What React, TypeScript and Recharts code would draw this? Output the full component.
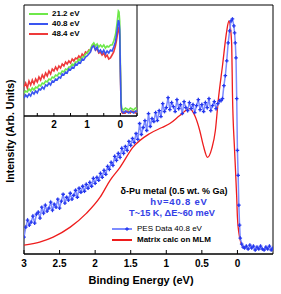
import React from 'react';
import { LineChart, Line, XAxis, YAxis, ReferenceArea } from 'recharts';

const FONT = '"Liberation Sans", Arial, sans-serif';

// Main panel: PES data at 40.8 eV (binding energy, intensity)
const pesEnergy = [
  3.0, 2.975, 2.95, 2.925, 2.9, 2.875, 2.85, 2.825, 2.8, 2.775,
  2.75, 2.725, 2.7, 2.675, 2.65, 2.625, 2.6, 2.575, 2.55, 2.525,
  2.5, 2.475, 2.45, 2.425, 2.4, 2.375, 2.35, 2.325, 2.3, 2.275,
  2.25, 2.225, 2.2, 2.175, 2.15, 2.125, 2.1, 2.075, 2.05, 2.025,
  2.0, 1.975, 1.95, 1.925, 1.9, 1.875, 1.85, 1.825, 1.8, 1.775,
  1.75, 1.725, 1.7, 1.675, 1.65, 1.625, 1.6, 1.575, 1.55, 1.525,
  1.5, 1.475, 1.45, 1.425, 1.4, 1.375, 1.35, 1.325, 1.3, 1.275,
  1.25, 1.225, 1.2, 1.175, 1.15, 1.125, 1.1, 1.075, 1.05, 1.025,
  1.0, 0.975, 0.95, 0.925, 0.9, 0.875, 0.85, 0.825, 0.8, 0.775,
  0.75, 0.725, 0.7, 0.675, 0.65, 0.625, 0.6, 0.575, 0.55, 0.525,
  0.5, 0.475, 0.45, 0.425, 0.4, 0.375, 0.35, 0.325, 0.3, 0.275,
  0.25, 0.23, 0.21, 0.19, 0.17, 0.15, 0.13, 0.11, 0.09, 0.07,
  0.05, 0.04, 0.03, 0.02, 0.01, 0, -0.01, -0.02, -0.03, -0.04,
  -0.06, -0.08, -0.1, -0.125, -0.15, -0.175, -0.2, -0.225, -0.25, -0.275,
  -0.3, -0.325, -0.35, -0.375, -0.4, -0.425, -0.45, -0.475, -0.5,
];
const pesIntensity = [
  17, 27, 34, 29, 32, 38, 31, 40, 42, 36,
  47, 41, 49, 43, 46, 52, 44, 50, 47, 55,
  46, 53, 60, 51, 57, 54, 61, 55, 59, 64,
  57, 66, 62, 68, 63, 70, 66, 72, 68, 76,
  71, 77, 74, 81, 77, 84, 80, 88, 85, 92,
  89, 98, 94, 101, 97, 106, 101, 108, 104, 113,
  109, 116, 112, 121, 115, 131, 120, 127, 134, 124,
  141, 128, 136, 133, 142, 134, 144, 138, 151, 143,
  147, 157, 145, 152, 148, 143, 155, 146, 150, 141,
  153, 147, 144, 152, 146, 150, 142, 149, 155, 145,
  150, 143, 152, 147, 156, 144, 149, 153, 146, 151,
  154, 154, 156, 169, 179, 194, 212, 224, 234, 236,
  229, 222, 212, 197, 156, 104, 79, 49, 29, 16,
  10, 7, 6, 8, 5, 9, 6, 8, 4, 7,
  5, 8, 5, 4, 7, 5, 8, 4, 6,
];

// Main panel: matrix calculation on MLM
const calcEnergy = [
  3.0, 2.78, 2.59, 2.35, 2.12, 1.93, 1.79, 1.65, 1.47, 1.23,
  1.06, 0.95, 0.81, 0.67, 0.6, 0.53, 0.48, 0.42, 0.36, 0.31,
  0.27, 0.21, 0.15, 0.12, 0.1, 0.08, 0.07, 0.04, 0.01, 0.0,
  -0.03, -0.07,
];
const calcIntensity = [
  9, 12, 17, 27, 41, 57, 74, 87, 107, 121,
  127, 131, 139, 146, 139, 124, 109, 97, 106, 124,
  154, 189, 224, 234, 228, 209, 162, 104, 57, 37,
  17, 8,
];

const mainTicks = [3, 2.5, 2, 1.5, 1, 0.5, 0];

// Inset: three photon energies
const insetEnergy = [
  2.9, 2.85, 2.8, 2.75, 2.7, 2.65, 2.6, 2.55, 2.5, 2.45,
  2.4, 2.35, 2.3, 2.25, 2.2, 2.15, 2.1, 2.05, 2.0, 1.95,
  1.9, 1.85, 1.8, 1.75, 1.7, 1.65, 1.6, 1.55, 1.5, 1.45,
  1.4, 1.35, 1.3, 1.25, 1.2, 1.15, 1.1, 1.05, 1.0, 0.95,
  0.9, 0.85, 0.8, 0.75, 0.7, 0.65, 0.6, 0.55, 0.5, 0.45,
  0.4, 0.35, 0.3, 0.25, 0.2, 0.15, 0.12, 0.1, 0.08, 0.06,
  0.04, 0.02, 0.0, -0.02, -0.04, -0.06, -0.1, -0.15, -0.2, -0.25,
  -0.3, -0.35, -0.4, -0.45, -0.5,
];
const inset212 = [
  23, 25, 24, 27, 25, 28, 26, 29, 28, 31,
  30, 33, 32, 35, 34, 37, 36, 39, 38, 41,
  40, 43, 42, 45, 44, 47, 46, 49, 49, 52,
  51, 54, 54, 57, 56, 59, 59, 62, 63, 65,
  67, 71, 73, 70, 72, 69, 71, 69, 71, 68,
  70, 69, 71, 71, 75, 81, 88, 93, 99, 105,
  104, 95, 52, 15, 8, 7, 6, 8, 7, 6,
  8, 7, 6, 8, 7,
];
const inset408 = [
  18, 21, 19, 22, 20, 24, 22, 25, 23, 27,
  26, 29, 27, 31, 30, 33, 31, 35, 34, 37,
  36, 39, 38, 42, 41, 44, 43, 47, 46, 49,
  48, 52, 51, 54, 53, 57, 56, 59, 60, 62,
  64, 69, 70, 66, 69, 64, 66, 63, 66, 62,
  65, 63, 66, 65, 69, 74, 80, 85, 91, 96,
  94, 86, 44, 12, 5, 4, 3, 5, 4, 3,
  5, 4, 3, 5, 4,
];
const inset484 = [
  29, 33, 28, 35, 31, 36, 32, 37, 34, 39,
  36, 41, 38, 43, 40, 45, 42, 47, 45, 49,
  46, 50, 48, 52, 50, 54, 52, 55, 53, 57,
  55, 58, 57, 60, 58, 62, 60, 64, 63, 66,
  65, 70, 71, 66, 67, 63, 64, 61, 63, 59,
  61, 57, 58, 61, 64, 70, 75, 79, 84, 88,
  87, 80, 44, 11, 4, 3, 4, 3, 5, 4,
  3, 5, 4, 3, 5,
];
const insetTicks = [2.5, 2, 1.5, 1, 0.5, 0, -0.5];
const insetLegend = ['21.2 eV', '40.8 eV', '48.4 eV'];

const pesData = pesEnergy.map((e, i) => ({ e, v: pesIntensity[i] }));
const calcData = calcEnergy.map((e, i) => ({ e, v: calcIntensity[i] }));
const insetData = insetEnergy.map((e, i) => ({
  e,
  g: inset212[i],
  b: inset408[i],
  r: inset484[i],
}));

const BLUE = '#2436ee';
const BLUE_LINE = '#7d8cff';
const TEXT_BLUE = '#3340e6';
const RED = '#ee1c1c';
const GREEN = '#6ee84a';
const IBLUE = '#3a55f0';
const IRED = '#ee3a3a';

const CrossDot = (p: any) => {
  const { cx, cy, index } = p;
  if (cx == null || cy == null) return <g key={index} />;
  return (
    <path
      key={index}
      d={`M${cx - 1.8},${cy}h3.6M${cx},${cy - 1.8}v3.6`}
      stroke={BLUE}
      strokeWidth={1.3}
      fill="none"
    />
  );
};

const tickStyle = { fontSize: 10, fontWeight: 'bold', fill: '#000', fontFamily: FONT };

const abs = (left: number, top: number, extra: React.CSSProperties = {}): React.CSSProperties => ({
  position: 'absolute',
  left,
  top,
  whiteSpace: 'nowrap',
  fontFamily: FONT,
  lineHeight: 1,
  ...extra,
});

export default function App() {
  return (
    <div style={{ position: 'absolute', left: 0, top: 0, width: 281, height: 294, background: '#fff', overflow: 'hidden' }}>
      <LineChart width={281} height={294} margin={{ top: 5, right: 8, bottom: 0, left: 24 }}>
        <XAxis
          type="number"
          dataKey="e"
          domain={[-0.5, 3]}
          reversed
          ticks={mainTicks}
          allowDataOverflow
          height={40}
          tickSize={-4}
          tickMargin={10}
          tick={tickStyle}
          axisLine={{ stroke: '#000' }}
          tickLine={{ stroke: '#000' }}
        />
        <YAxis type="number" domain={[0, 250]} width={0} tick={false} tickLine={false} axisLine={{ stroke: '#000' }} />
        <ReferenceArea x1={3} x2={-0.5} y1={0} y2={250} fill="none" stroke="#000" strokeWidth={1} fillOpacity={0} />
        <Line data={calcData} dataKey="v" type="monotone" stroke={RED} strokeWidth={1.3} dot={false} isAnimationActive={false} />
        <Line data={pesData} dataKey="v" type="linear" stroke={BLUE_LINE} strokeWidth={1.5} dot={CrossDot} isAnimationActive={false} />
      </LineChart>

      {/* Inset */}
      <div style={{ position: 'absolute', left: 24, top: 5 }}>
        <LineChart width={114} height={130} data={insetData} margin={{ top: 0, right: 1, bottom: 0, left: 0 }}>
          <XAxis
            type="number"
            dataKey="e"
            domain={[-0.5, 2.9]}
            reversed
            ticks={insetTicks}
            allowDataOverflow
            height={19}
            tickSize={-3}
            tickMargin={8}
            tick={tickStyle}
            tickFormatter={(v: number) => (Number.isInteger(v) ? String(v) : '')}
            axisLine={{ stroke: '#000' }}
            tickLine={{ stroke: '#000' }}
          />
          <YAxis type="number" domain={[0, 111]} width={0} tick={false} tickLine={false} axisLine={false} />
          <ReferenceArea x1={2.9} x2={-0.5} y1={0} y2={111} fill="#fff" fillOpacity={1} stroke="#000" strokeWidth={1} />
          <Line dataKey="r" type="linear" stroke={IRED} strokeWidth={1.6} dot={false} isAnimationActive={false} />
          <Line dataKey="g" type="linear" stroke={GREEN} strokeWidth={1.6} dot={false} isAnimationActive={false} />
          <Line dataKey="b" type="linear" stroke={IBLUE} strokeWidth={1.6} dot={false} isAnimationActive={false} />
        </LineChart>
      </div>

      {/* Inset legend */}
      {insetLegend.map((t, i) => (
        <React.Fragment key={t}>
          <div style={{ position: 'absolute', left: 29, top: 13 + i * 10, width: 19, height: 2, background: [GREEN, IBLUE, IRED][i] }} />
          <div style={abs(52, 10 + i * 10, { fontSize: 8, fontWeight: 'bold', color: '#000' })}>{t}</div>
        </React.Fragment>
      ))}

      {/* Y label */}
      <div
        style={abs(10, 131, {
          fontSize: 10.5,
          fontWeight: 'bold',
          transform: 'translate(-50%, -50%) rotate(-90deg)',
          color: '#000',
        })}
      >
        Intensity (Arb. Units)
      </div>

      {/* X label */}
      <div style={abs(141, 280, { fontSize: 11, fontWeight: 'bold', transform: 'translate(-50%, -50%)', color: '#000' })}>
        Binding Energy (eV)
      </div>

      {/* Annotations */}
      <div style={abs(174, 191, { fontSize: 9, fontWeight: 'bold', transform: 'translate(-50%, -50%)', color: '#000' })}>
        δ-Pu metal (0.5 wt. % Ga)
      </div>
      <div style={abs(179, 202, { fontSize: 9.5, letterSpacing: 0.8, fontWeight: 600, transform: 'translate(-50%, -50%)', color: TEXT_BLUE })}>
        hν=40.8 eV
      </div>
      <div style={abs(172, 214, { fontSize: 9.2, fontWeight: 600, transform: 'translate(-50%, -50%)', color: TEXT_BLUE })}>
        T~15 K, ΔE~60 meV
      </div>

      {/* Main legend */}
      <div style={{ position: 'absolute', left: 112, top: 228, width: 20, height: 1.5, background: BLUE_LINE }} />
      <svg style={{ position: 'absolute', left: 122, top: 224 }} width={10} height={10}>
        <path d="M3.2,5h3.6M5,3.2v3.6" stroke={BLUE} strokeWidth={1.3} />
      </svg>
      <div style={abs(137, 229, { fontSize: 8, transform: 'translateY(-50%)', color: '#000' })}>
        PES Data 40.8 eV
      </div>
      <div style={{ position: 'absolute', left: 112, top: 239, width: 20, height: 1.5, background: RED }} />
      <div style={abs(137, 240, { fontSize: 8, fontWeight: 'bold', transform: 'translateY(-50%)', color: '#000' })}>
        Matrix calc on MLM
      </div>
    </div>
  );
}
